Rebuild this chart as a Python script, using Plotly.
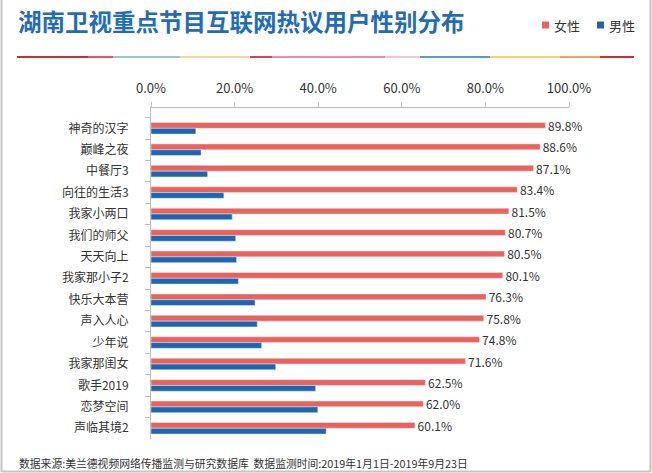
import plotly.graph_objects as go

programs = ["神奇的汉字", "巅峰之夜", "中餐厅3", "向往的生活3", "我家小两口", "我们的师父",
            "天天向上", "我家那小子2", "快乐大本营", "声入人心", "少年说", "我家那闺女",
            "歌手2019", "恋梦空间", "声临其境2"]
female = [89.8, 88.6, 87.1, 83.4, 81.5, 80.7, 80.5, 80.1, 76.3, 75.8, 74.8, 71.6, 62.5, 62.0, 60.1]
male = [10.2, 11.4, 12.9, 16.6, 18.5, 19.3, 19.5, 19.9, 23.7, 24.2, 25.2, 28.4, 37.5, 38.0, 39.9]
axis_ticks = [0, 20, 40, 60, 80, 100]
axis_tick_text = ["0.0%", "20.0%", "40.0%", "60.0%", "80.0%", "100.0%"]
series_names = ["女性", "男性"]

RED = "#E9625C"
BLUE = "#1E66B0"
W, H = 652, 473
L, R, T, B = 151, 569, 108, 439

def px(x):
    return (x - L) / (R - L)

def py(y):
    return (B - y) / (B - T)

fig = go.Figure()
fig.add_trace(go.Bar(
    y=programs, x=female, name=series_names[0], orientation="h", marker_color=RED,
    text=[f" {v:.1f}%" for v in female], textposition="outside", cliponaxis=False,
    constraintext="none",
    textfont=dict(size=12, color="#333333"), xaxis="x", showlegend=False,
))
fig.add_trace(go.Bar(
    y=programs, x=male, name=series_names[1], orientation="h", marker_color=BLUE,
    xaxis="x", showlegend=False,
))
# invisible trace to anchor the top axis
fig.add_trace(go.Scatter(x=[0, 100], y=[programs[0], programs[0]], xaxis="x2",
                         mode="markers", marker=dict(opacity=0), showlegend=False,
                         hoverinfo="skip"))

shapes = []
# frame (left, right, bottom)
frame = dict(type="line", xref="paper", yref="paper", line=dict(color="#C4C4C4", width=2))
shapes.append({**frame, "x0": px(1.5), "x1": px(1.5), "y0": py(0), "y1": py(472)})
shapes.append({**frame, "x0": px(650.5), "x1": px(650.5), "y0": py(0), "y1": py(472)})
shapes.append({**frame, "x0": px(1.5), "x1": px(650.5), "y0": py(471.5), "y1": py(471.5)})
# multicolour separator line
segs = [(17, 88, "#C0303A"), (88, 113, "#D95B6E"), (113, 180, "#9CC3E0"), (180, 250, "#F3D9A0"),
        (250, 272, "#D0445A"), (272, 385, "#E48FAF"), (385, 420, "#F2C6D4"), (420, 490, "#5A9EC0"),
        (490, 560, "#F2D27A"), (560, 600, "#EBA56A"), (600, 634, "#C8303A")]
for x0, x1, c in segs:
    shapes.append(dict(type="line", xref="paper", yref="paper", x0=px(x0), x1=px(x1),
                       y0=py(57), y1=py(57), line=dict(color=c, width=2)))

annotations = [
    dict(text="<b>湖南卫视重点节目互联网热议用户性别分布</b>", xref="paper", yref="paper",
         x=px(16), y=py(21), xanchor="left", yanchor="middle", showarrow=False,
         font=dict(size=23.5, color="#1F6DB8", family="Noto Sans CJK SC")),
    dict(text="数据来源:美兰德视频网络传播监测与研究数据库  数据监测时间:2019年1月1日-2019年9月23日",
         xref="paper", yref="paper", x=px(17), y=py(463), xanchor="left", yanchor="middle",
         showarrow=False, font=dict(size=10.8, color="#333333", family="Noto Sans CJK SC")),
]

# legend (drawn manually so it does not push the margins)
for (sx, tx), name, col in zip([(542, 552), (597, 607)], series_names, [RED, BLUE]):
    shapes.append(dict(type="rect", xref="paper", yref="paper", x0=px(sx), x1=px(sx + 7),
                       y0=py(28.5), y1=py(21.5), fillcolor=col, line=dict(width=0)))
    annotations.append(dict(text=name, xref="paper", yref="paper", x=px(tx), y=py(25),
                            xanchor="left", yanchor="middle", showarrow=False,
                            font=dict(size=13, color="#333333", family="Noto Sans CJK SC")))

fig.update_layout(
    width=W, height=H,
    margin=dict(l=L, r=W - R, t=T, b=H - B, pad=0, autoexpand=False),
    paper_bgcolor="white", plot_bgcolor="white",
    font=dict(family="Noto Sans CJK SC", size=12, color="#333333"),
    barmode="group", bargap=0.46, bargroupgap=0,
    showlegend=False,
    xaxis=dict(range=[0, 95.2], visible=False, showgrid=False, zeroline=False, automargin=False),
    xaxis2=dict(range=[0, 100], overlaying="x", side="top", anchor="y",
                tickvals=axis_ticks, ticktext=axis_tick_text,
                showline=True, linecolor="#BFBFBF", linewidth=1,
                ticks="outside", ticklen=5, tickcolor="#BFBFBF", automargin=False,
                ticklabelstandoff=4,
                showgrid=False, zeroline=False, tickfont=dict(size=13, color="#333333")),
    yaxis=dict(autorange="reversed", showline=True, linecolor="#BFBFBF", linewidth=1,
               ticks="outside", ticklen=5, tickcolor="#BFBFBF", tickson="boundaries",
               showgrid=False, zeroline=False, ticklabelstandoff=19, automargin=False,
               tickfont=dict(size=12, color="#333333")),
    shapes=shapes, annotations=annotations,
)

fig.write_html("out.html", config={"displayModeBar": False},
               post_script="document.body.style.margin='0';document.body.style.overflow='hidden';")
